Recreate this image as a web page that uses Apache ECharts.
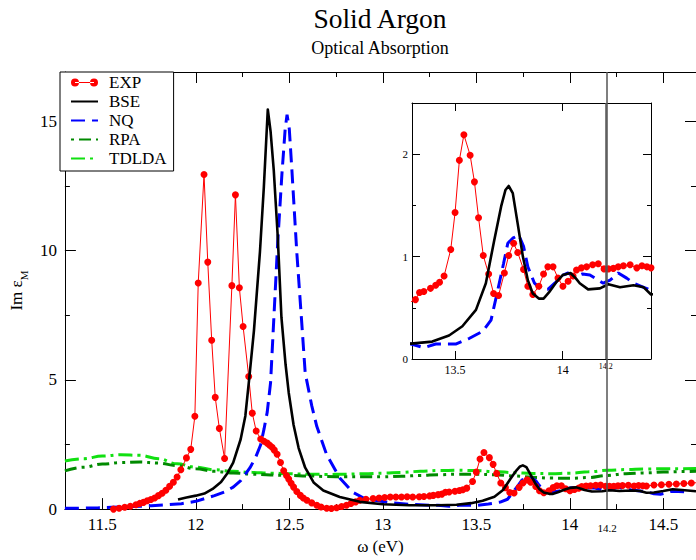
<!DOCTYPE html>
<html><head><meta charset="utf-8">
<script src="https://cdn.jsdelivr.net/npm/echarts@6/dist/echarts.min.js"></script>
<style>html,body{margin:0;padding:0;background:#fff}#c{width:696px;height:560px}</style>
</head><body><div id="c"></div>
<script>
// ---------- data ----------
const expX = [11.56,11.59,11.62,11.65,11.68,11.70,11.72,11.74,11.76,11.78,11.80,11.82,11.84,11.86,11.88,11.90,11.92,11.95,11.973,11.995,
  12.013,12.044,12.064,12.085,12.104,12.126,12.154,12.193,12.212,12.233,12.253,12.283,12.302,12.323,12.347,12.365,12.382,12.395,12.408,12.42,
  12.435,12.453,12.47,12.485,12.497,12.51,12.523,12.54,12.559,12.575,12.594,12.62,12.647,12.67,12.70,12.725,12.753,12.78,12.806,12.83,
  12.855,12.877,12.91,12.948,12.98,13.01,13.04,13.07,13.10,13.13,13.16,13.195,13.22,13.25,13.27,
  13.296,13.316,13.335,13.355,13.386,13.41,13.428,13.449,13.48,13.5,13.52,13.541,13.57,13.59,13.609,13.631,13.656,13.679,13.702,13.729,
  13.749,13.772,13.791,13.818,13.838,13.861,13.889,13.911,13.931,13.955,13.978,14.001,14.025,14.048,14.064,14.087,14.111,14.139,14.165,14.192,
  14.212,14.235,14.258,14.282,14.313,14.344,14.368,14.391,14.41,14.45,14.49,14.53,14.57,14.61,14.65,14.68];
const expY = [0.00,0.03,0.07,0.11,0.17,0.22,0.26,0.32,0.37,0.43,0.52,0.61,0.73,0.88,1.04,1.24,1.52,1.98,2.31,3.59,
  8.74,12.94,9.55,6.53,4.32,3.12,1.96,8.64,12.15,8.56,7.06,5.13,3.71,3.02,2.71,2.62,2.55,2.47,2.39,2.28,
  2.12,1.80,1.48,1.30,1.16,1.00,0.85,0.68,0.53,0.43,0.34,0.24,0.15,0.08,0.03,0.02,0.05,0.10,0.15,0.22,
  0.28,0.34,0.38,0.41,0.43,0.45,0.47,0.47,0.47,0.48,0.47,0.48,0.49,0.51,0.53,
  0.56,0.58,0.65,0.66,0.69,0.72,0.75,0.81,1.07,1.43,1.94,2.19,1.99,1.73,1.38,1.01,0.83,0.64,0.62,0.84,
  1.01,1.13,1.04,0.875,0.71,0.63,0.71,0.83,0.90,0.90,0.79,0.71,0.76,0.81,0.87,0.89,0.90,0.92,0.93,0.88,
  0.88,0.885,0.90,0.91,0.92,0.89,0.91,0.90,0.89,0.93,0.94,0.96,0.97,0.99,1.01,1.02];

const bseX = [11.905,11.95,12.0,12.046,12.09,12.135,12.17,12.20,12.24,12.265,12.285,12.311,12.343,12.364,12.385,12.40,12.417,12.438,12.458,12.48,
  12.497,12.523,12.55,12.585,12.63,12.682,12.77,12.877,13.0,13.142,13.296,13.394,13.472,13.534,13.597,13.643,13.682,13.714,13.734,13.749,
  13.768,13.791,13.815,13.838,13.861,13.889,13.911,13.936,13.97,14.0,14.036,14.06,14.079,14.118,14.173,14.212,14.266,14.329,14.376,14.41,
  14.45,14.5,14.55,14.6,14.675];
const bseY = [0.37,0.45,0.52,0.60,0.78,1.05,1.40,1.80,2.70,3.6,5.0,6.9,9.94,12.46,15.45,14.6,13.1,10.57,7.41,5.6,
  4.5,3.25,2.36,1.60,1.03,0.72,0.47,0.28,0.19,0.15,0.15,0.17,0.23,0.32,0.48,0.74,1.16,1.49,1.65,1.69,
  1.62,1.32,1.0,0.77,0.64,0.59,0.59,0.65,0.75,0.82,0.84,0.79,0.74,0.68,0.69,0.73,0.70,0.72,0.70,0.63,
  0.64,0.70,0.77,0.74,0.69];

const nqX = [11.3,11.4,11.48,11.55,11.62,11.70,11.763,11.834,11.923,12.0,12.046,12.1,12.152,12.2,12.24,12.29,12.32,12.347,12.365,12.382,
  12.40,12.414,12.438,12.461,12.478,12.488,12.50,12.514,12.54,12.567,12.585,12.62,12.647,12.7,12.77,12.84,12.9,12.95,13.05,13.15,
  13.25,13.296,13.355,13.41,13.503,13.565,13.628,13.667,13.698,13.725,13.745,13.768,13.796,13.818,13.838,13.869,13.9,13.931,13.963,14.001,
  14.025,14.056,14.092,14.126,14.157,14.188,14.22,14.258,14.297,14.329,14.376,14.41,14.45,14.485,14.538,14.58,14.63];
const nqY = [0.03,0.04,0.05,0.07,0.09,0.11,0.13,0.16,0.21,0.30,0.40,0.52,0.66,0.85,1.10,1.60,2.0,2.49,3.1,3.75,
  4.9,6.9,10.3,13.0,14.7,15.25,14.7,13.1,9.94,7.16,5.27,4.0,3.2,2.1,1.2,0.65,0.42,0.35,0.24,0.18,
  0.15,0.146,0.11,0.146,0.146,0.20,0.27,0.38,0.67,0.93,1.13,1.18,1.21,1.10,0.90,0.74,0.68,0.68,0.74,0.82,
  0.84,0.80,0.83,0.82,0.78,0.74,0.77,0.84,0.79,0.74,0.70,0.67,0.59,0.57,0.68,0.68,0.66];

const rpaX = [11.3,11.4,11.5,11.6,11.7,11.8,11.9,12.0,12.1,12.2,12.3,12.4,12.5,12.6,12.7,12.8,12.9,13.0,13.1,13.2,
  13.3,13.4,13.5,13.6,13.7,13.8,13.9,14.0,14.1,14.2,14.3,14.4,14.5,14.6,14.7];
const rpaY = [1.48,1.62,1.74,1.80,1.82,1.78,1.68,1.56,1.46,1.40,1.35,1.32,1.30,1.28,1.26,1.25,1.25,1.25,1.27,1.30,
  1.33,1.35,1.35,1.33,1.28,1.23,1.20,1.19,1.22,1.30,1.37,1.40,1.43,1.45,1.47];

const tdldaX = [11.3,11.4,11.5,11.6,11.7,11.8,11.9,12.0,12.1,12.2,12.3,12.4,12.5,12.6,12.7,12.8,12.9,13.0,13.1,13.2,
  13.3,13.4,13.5,13.6,13.7,13.8,13.9,14.0,14.1,14.2,14.3,14.4,14.5,14.6,14.7];
const tdldaY = [1.86,1.95,2.05,2.10,2.08,1.95,1.75,1.62,1.52,1.46,1.42,1.39,1.37,1.35,1.34,1.35,1.37,1.39,1.42,1.46,
  1.49,1.50,1.49,1.45,1.41,1.38,1.37,1.39,1.44,1.50,1.53,1.55,1.56,1.56,1.57];

const mainXTicks = [11.5,12,12.5,13,13.5,14,14.5];
const mainXMinorTicks = [11.75,12.25,12.75,13.25,13.75,14.25];
const insetXTicks = [13.5,14];
const markerX = [14.2];

const annotMainText = ['1','1\u2019','2','2\u2019','3','3\u2019'];
const annotMainX = [12.046,12.237,13.547,13.78,13.94,14.114];
const annotMainY = [13.98,13.22,2.95,2.42,2.27,2.08];
const annotInsetText = ['n=2','2\u2019','3','3\u2019'];
const annotInsetX = [13.562,13.776,13.936,14.126];
const annotInsetY = [2.38,1.89,1.19,1.13];

// ---------- chart ----------
const FONT = 'Liberation Serif';
const pairs = (xs, ys) => xs.map((x, i) => [x, ys[i]]);
const annot = (t, xs, ys) => t.map((s, i) => ({name: s, value: [xs[i], ys[i]]}));

const chart = echarts.init(document.getElementById('c'), null, {renderer: 'svg'});

function xAx(o) {
  return Object.assign({
    type: 'value', splitLine: {show: false},
    axisLine: {show: true, onZero: false, lineStyle: {color: '#000', width: 1}},
    axisLabel: {show: false}
  }, o);
}
function yAx(o) {
  return Object.assign({
    type: 'value', splitLine: {show: false},
    axisLine: {show: true, onZero: false, lineStyle: {color: '#000', width: 1}},
    axisLabel: {show: false}
  }, o);
}

function expSeries(xi, yi, z) {
  return {name: 'EXP', type: 'line', xAxisIndex: xi, yAxisIndex: yi, z: z,
    data: pairs(expX, expY), symbol: 'circle', symbolSize: 7, showSymbol: true,
    itemStyle: {color: '#ff0000'}, lineStyle: {color: '#ff0000', width: 1}};
}
function bseSeries(xi, yi, z) {
  return {name: 'BSE', type: 'line', xAxisIndex: xi, yAxisIndex: yi, z: z,
    data: pairs(bseX, bseY), symbol: 'none', smooth: false,
    itemStyle: {color: '#000'}, lineStyle: {color: '#000', width: 2.6, join: 'round'}};
}
function nqSeries(xi, yi, z) {
  return {name: 'NQ', type: 'line', xAxisIndex: xi, yAxisIndex: yi, z: z,
    data: pairs(nqX, nqY), symbol: 'none', smooth: false,
    itemStyle: {color: '#0000ff'}, lineStyle: {color: '#0000ff', width: 3, type: [14, 7]}};
}

const hidden = {opacity: 0};
const option = {
  animation: false,
  backgroundColor: '#fff',
  textStyle: {fontFamily: FONT},
  graphic: [
    {type: 'text', x: 380, y: 18, z: 30, style: {text: 'Solid Argon', fill: '#000', fontSize: 27.5, fontFamily: FONT, textAlign: 'center', textVerticalAlign: 'middle'}},
    {type: 'text', x: 380, y: 48, z: 30, style: {text: 'Optical Absorption', fill: '#000', fontSize: 18, fontFamily: FONT, textAlign: 'center', textVerticalAlign: 'middle'}}
  ],
  legend: {
    left: 60, top: 72, orient: 'vertical', z: 20,
    backgroundColor: '#fff', borderColor: '#000', borderWidth: 1, borderRadius: 0,
    padding: [2, 7, 4, 10], itemWidth: 27, itemHeight: 14, itemGap: 2,
    itemStyle: hidden,
    textStyle: {fontSize: 17, fontFamily: FONT, color: '#000', padding: [0, 0, 0, 6]},
    data: [
      {name: 'EXP', icon: 'path://M0,4a4,4 0 1,0 8,0a4,4 0 1,0 -8,0z M19,4a4,4 0 1,0 8,0a4,4 0 1,0 -8,0z M4,3.5h19v1h-19z',
        itemStyle: {opacity: 1, color: '#ff0000'}},
      {name: 'BSE'}, {name: 'NQ'}, {name: 'RPA', lineStyle: {dashOffset: 25}}, {name: 'TDLDA'}
    ]
  },
  grid: [
    {left: 60, top: 72, right: 0, bottom: 41, containLabel: false},
    {left: 412, top: 103, width: 239, height: 256, show: true, backgroundColor: '#fff', borderWidth: 0, z: 4}
  ],
  xAxis: [
    xAx({gridIndex: 0, min: 11.3, max: 14.675, position: 'bottom',
      axisTick: {show: true, inside: true, length: 11, customValues: mainXTicks, lineStyle: {color: '#000'}},
      axisLabel: {show: true, customValues: mainXTicks, margin: 7, fontSize: 17, color: '#000', fontFamily: FONT},
      name: '\u03c9 (eV)', nameLocation: 'middle', nameGap: 27,
      nameTextStyle: {fontSize: 17, color: '#000', fontFamily: FONT}}),
    xAx({gridIndex: 0, min: 11.3, max: 14.675, position: 'bottom', axisLine: {show: false, onZero: false},
      axisTick: {show: true, inside: true, length: 5, customValues: mainXMinorTicks, lineStyle: {color: '#000'}}}),
    xAx({gridIndex: 0, min: 11.3, max: 14.675, position: 'top',
      axisTick: {show: true, inside: true, length: 11, customValues: mainXTicks, lineStyle: {color: '#000'}}}),
    xAx({gridIndex: 0, min: 11.3, max: 14.675, position: 'top', axisLine: {show: false, onZero: false},
      axisTick: {show: true, inside: true, length: 5, customValues: mainXMinorTicks, lineStyle: {color: '#000'}}}),
    xAx({gridIndex: 1, min: 13.3, max: 14.41, position: 'bottom', z: 5,
      axisTick: {show: true, inside: true, length: 8, customValues: insetXTicks, lineStyle: {color: '#000'}},
      axisLabel: {show: true, customValues: insetXTicks, margin: 5, fontSize: 12, color: '#000', fontFamily: FONT}}),
    xAx({gridIndex: 1, min: 13.3, max: 14.41, position: 'top', z: 5,
      axisTick: {show: true, inside: true, length: 8, customValues: insetXTicks, lineStyle: {color: '#000'}}})
  ],
  yAxis: [
    yAx({gridIndex: 0, min: 0, max: 16.9, interval: 5, position: 'left',
      axisTick: {show: true, inside: true, length: 11, lineStyle: {color: '#000'}},
      minorTick: {show: true, splitNumber: 2, length: 5, lineStyle: {color: '#000'}},
      axisLabel: {show: true, showMaxLabel: false, margin: 8, fontSize: 17, color: '#000', fontFamily: FONT},
      name: '{a|Im \u03b5}{b|M}', nameLocation: 'middle', nameRotate: 90, nameGap: 34,
      nameTextStyle: {color: '#000', rich: {
        a: {fontSize: 17, fontFamily: FONT, color: '#000', verticalAlign: 'top', padding: [0, 0, 4, 0]},
        b: {fontSize: 11, fontFamily: FONT, color: '#000', verticalAlign: 'bottom'}}}}),
    yAx({gridIndex: 0, min: 0, max: 16.9, interval: 5, position: 'right',
      axisTick: {show: true, inside: true, length: 11, lineStyle: {color: '#000'}},
      minorTick: {show: true, splitNumber: 2, length: 5, lineStyle: {color: '#000'}}}),
    yAx({gridIndex: 1, min: 0, max: 2.5, interval: 1, position: 'left', z: 5,
      axisTick: {show: true, inside: true, length: 8, lineStyle: {color: '#000'}},
      minorTick: {show: true, splitNumber: 2, length: 4, lineStyle: {color: '#000'}},
      axisLabel: {show: true, showMaxLabel: false, margin: 4, fontSize: 11, color: '#000', fontFamily: FONT}}),
    yAx({gridIndex: 1, min: 0, max: 2.5, interval: 1, position: 'right', z: 5,
      axisTick: {show: true, inside: true, length: 8, lineStyle: {color: '#000'}},
      minorTick: {show: true, splitNumber: 2, length: 4, lineStyle: {color: '#000'}}})
  ],
  series: [
    {name: 'TDLDA', type: 'line', xAxisIndex: 0, yAxisIndex: 0, z: 2,
      data: pairs(tdldaX, tdldaY), symbol: 'none', smooth: 0.4, smoothMonotone: 'x',
      itemStyle: {color: '#11e011'}, lineStyle: {color: '#11e011', width: 3, type: [14, 5, 3, 5]}},
    {name: 'RPA', type: 'line', xAxisIndex: 0, yAxisIndex: 0, z: 2,
      data: pairs(rpaX, rpaY), symbol: 'none', smooth: 0.4, smoothMonotone: 'x',
      itemStyle: {color: '#008a00'}, lineStyle: {color: '#008a00', width: 3, type: [12, 5, 3, 5, 3, 5]}},
    expSeries(0, 0, 2),
    nqSeries(0, 0, 2),
    Object.assign(bseSeries(0, 0, 3), {
      markLine: {silent: true, symbol: 'none', z: 10, animation: false,
        lineStyle: {color: '#555', width: 1.5, type: 'solid'},
        label: {show: true, position: 'start', formatter: '14.2', fontSize: 11, color: '#000', fontFamily: FONT, distance: 13},
        data: markerX.map(v => ({xAxis: v}))}
    }),
    expSeries(4, 2, 6),
    nqSeries(4, 2, 6),
    Object.assign(bseSeries(4, 2, 7), {
      markLine: {silent: true, symbol: 'none', z: 8, animation: false,
        lineStyle: {color: '#555', width: 1.5, type: 'solid'},
        label: {show: true, position: 'start', formatter: '14.2', fontSize: 8, color: '#000', fontFamily: FONT, distance: 3},
        data: markerX.map(v => ({xAxis: v}))}
    }),
    {name: 'annotMain', type: 'scatter', xAxisIndex: 0, yAxisIndex: 0, z: 9, silent: true,
      symbolSize: 1, itemStyle: {opacity: 0}, data: annot(annotMainText, annotMainX, annotMainY),
      label: {show: true, position: 'inside', formatter: '{b}', fontSize: 17, color: '#000', fontFamily: FONT}},
    {name: 'annotInset', type: 'scatter', xAxisIndex: 4, yAxisIndex: 2, z: 9, silent: true,
      symbolSize: 1, itemStyle: {opacity: 0}, data: annot(annotInsetText, annotInsetX, annotInsetY),
      label: {show: true, position: 'inside', formatter: '{b}', fontSize: 17, color: '#000', fontFamily: FONT}}
  ]
};
chart.setOption(option);
</script>
</body></html>
